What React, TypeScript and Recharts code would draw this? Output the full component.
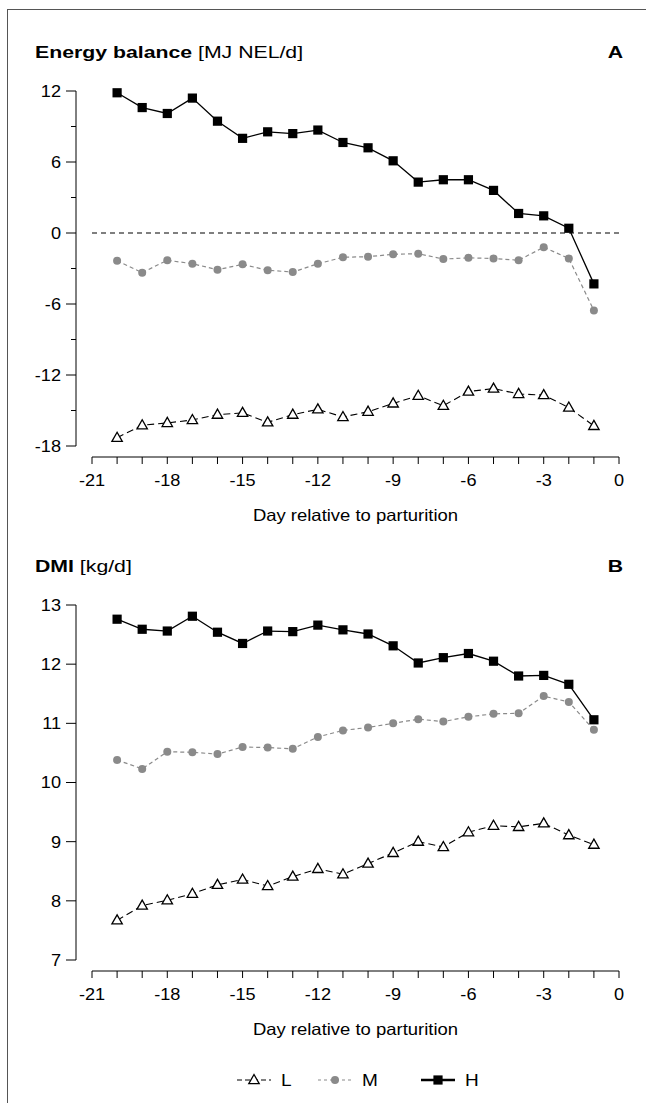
import React from 'react';
import { LineChart, Line, XAxis, YAxis, ReferenceLine } from 'recharts';

const days = [-20, -19, -18, -17, -16, -15, -14, -13, -12, -11, -10, -9, -8, -7, -6, -5, -4, -3, -2, -1];

const ebL = [-17.3, -16.25, -16.05, -15.8, -15.35, -15.2, -16.0, -15.35, -14.9, -15.55, -15.1, -14.4, -13.75, -14.6, -13.4, -13.15, -13.6, -13.7, -14.75, -16.3];
const ebM = [-2.35, -3.35, -2.3, -2.6, -3.1, -2.65, -3.15, -3.3, -2.6, -2.05, -2.0, -1.8, -1.75, -2.2, -2.1, -2.15, -2.3, -1.2, -2.15, -6.55];
const ebH = [11.85, 10.6, 10.1, 11.4, 9.45, 8.0, 8.55, 8.4, 8.7, 7.65, 7.2, 6.1, 4.3, 4.5, 4.5, 3.6, 1.65, 1.45, 0.4, -4.3];

const dmiL = [7.67, 7.92, 8.01, 8.12, 8.27, 8.36, 8.25, 8.41, 8.54, 8.45, 8.63, 8.81, 9.0, 8.91, 9.16, 9.27, 9.25, 9.31, 9.11, 8.95];
const dmiM = [10.38, 10.23, 10.52, 10.51, 10.48, 10.6, 10.59, 10.57, 10.77, 10.88, 10.93, 11.0, 11.07, 11.03, 11.11, 11.16, 11.17, 11.46, 11.36, 10.89];
const dmiH = [12.76, 12.59, 12.56, 12.81, 12.54, 12.35, 12.56, 12.55, 12.66, 12.58, 12.51, 12.31, 12.02, 12.11, 12.18, 12.05, 11.8, 11.81, 11.66, 11.06];

const xTicks = [-21, -20, -19, -18, -17, -16, -15, -14, -13, -12, -11, -10, -9, -8, -7, -6, -5, -4, -3, -2, -1, 0];
const ebTicks = [12, 9, 6, 3, 0, -3, -6, -9, -12, -15, -18];
const dmiTicks = [13, 12, 11, 10, 9, 8, 7];

const seriesNames = ['L', 'M', 'H'];
const xLabel = 'Day relative to parturition';

const FONT = 'Arial, "Liberation Sans", Helvetica, sans-serif';
const GREY = '#8a8a8a';
const TICK_FS = 16.5;
const TICK_SX = 1.1;

const ebData = days.map((d, i) => ({ day: d, L: ebL[i], M: ebM[i], H: ebH[i] }));
const dmiData = days.map((d, i) => ({ day: d, L: dmiL[i], M: dmiM[i], H: dmiH[i] }));

const TriDot = (p: any) => {
  const { cx, cy } = p;
  if (cx == null || cy == null) return <g key={p.index} />;
  return (
    <polygon
      key={p.index}
      points={`${cx},${cy - 5.5} ${cx - 5.2},${cy + 3.6} ${cx + 5.2},${cy + 3.6}`}
      fill="#fff"
      stroke="#000"
      strokeWidth={1.3}
    />
  );
};
const CircDot = (p: any) => {
  const { cx, cy } = p;
  if (cx == null || cy == null) return <g key={p.index} />;
  return <circle key={p.index} cx={cx} cy={cy} r={4} fill={GREY} stroke="none" />;
};
const SqDot = (p: any) => {
  const { cx, cy } = p;
  if (cx == null || cy == null) return <g key={p.index} />;
  return <rect key={p.index} x={cx - 4.6} y={cy - 4.6} width={9.2} height={9.2} fill="#000" />;
};

const GAP = 16;

function makeYTick(labelStep: number) {
  return (props: any) => {
    const { x, y, payload } = props;
    const v = payload.value;
    const major = Math.abs(v % labelStep) < 1e-9;
    const ax = x - GAP;
    const len = major ? 10 : 5;
    return (
      <g>
        <line x1={ax - len} x2={ax} y1={y} y2={y} stroke="#000" strokeWidth={1} />
        {major && (
          <text
            transform={`translate(${ax - 15},${y}) scale(${TICK_SX},1)`}
            x={0}
            y={0}
            dy="0.36em"
            textAnchor="end"
            fontSize={TICK_FS}
            fontFamily={FONT}
            fill="#000"
          >
            {String(v)}
          </text>
        )}
      </g>
    );
  };
}

const XTick = (props: any) => {
  const { x, y, payload } = props;
  const v = payload.value;
  if (v % 3 !== 0) return <g />;
  return (
    <text
      transform={`translate(${x},${y}) scale(${TICK_SX},1)`}
      x={0}
      y={0}
      dy="0.71em"
      textAnchor="middle"
      fontSize={TICK_FS}
      fontFamily={FONT}
      fill="#000"
    >
      {String(v)}
    </text>
  );
};

const AxisLabel = (props: any) => {
  const vb = props.viewBox || {};
  const cx = vb.x + vb.width / 2;
  const by = vb.y + vb.height - 9;
  return (
    <text
      transform={`translate(${cx},${by}) scale(1.12,1)`}
      x={0}
      y={0}
      textAnchor="middle"
      fontSize={16.5}
      fontFamily={FONT}
      fill="#000"
    >
      {xLabel}
    </text>
  );
};

const yAxisLineShape = (p: any) => (
  <line x1={p.x1 - GAP} x2={p.x2 - GAP} y1={p.y1} y2={p.y2} stroke="#000" strokeWidth={1} />
);

const CHART_W = 646;
const CHART_H = 530;
const MARGIN = { top: 91, right: 27, left: 0, bottom: 0 };

function Panel({ data, ticks, domain, labelStep, zeroLine }: any) {
  return (
    <LineChart width={CHART_W} height={CHART_H} data={data} margin={MARGIN}>
      <XAxis
        dataKey="day"
        type="number"
        domain={[-21, 0]}
        ticks={xTicks}
        interval={0}
        tickSize={7}
        tickMargin={10}
        axisLine={{ stroke: '#000', strokeWidth: 1 }}
        tickLine={{ stroke: '#000', strokeWidth: 1 }}
        tick={XTick}
        height={73}
        label={<AxisLabel />}
      />
      <YAxis
        type="number"
        domain={domain}
        ticks={ticks}
        interval={0}
        width={92}
        axisLine={false}
        tickLine={false}
        tickSize={0}
        tickMargin={0}
        padding={{ top: 0, bottom: 11 }}
        tick={makeYTick(labelStep)}
      />
      <ReferenceLine
        segment={[{ x: -21, y: domain[1] }, { x: -21, y: domain[0] }]}
        ifOverflow="visible"
        shape={yAxisLineShape}
      />
      {zeroLine && <ReferenceLine y={0} stroke="#000" strokeWidth={1.2} strokeDasharray="5 4" />}
      <Line dataKey="L" stroke="#000" strokeWidth={1.1} strokeDasharray="7 4" dot={TriDot} isAnimationActive={false} />
      <Line dataKey="M" stroke={GREY} strokeWidth={1.2} strokeDasharray="4 3" dot={CircDot} isAnimationActive={false} />
      <Line dataKey="H" stroke="#000" strokeWidth={1.3} dot={SqDot} isAnimationActive={false} />
    </LineChart>
  );
}

function Legend() {
  const items = [
    { name: seriesNames[0], x: 237, dash: '5 3', stroke: '#000', marker: 'tri', w: 1.2 },
    { name: seriesNames[1], x: 318, dash: '3 3', stroke: GREY, marker: 'circ', w: 1.2 },
    { name: seriesNames[2], x: 421, dash: undefined, stroke: '#000', marker: 'sq', w: 2.5 },
  ];
  return (
    <svg width={646} height={30} style={{ position: 'absolute', left: 0, top: 1065 }}>
      {items.map((it) => {
        const cx = it.x + 17;
        const cy = 15;
        return (
          <g key={it.name}>
            <line x1={it.x} x2={it.x + 34} y1={cy} y2={cy} stroke={it.stroke} strokeWidth={it.w} strokeDasharray={it.dash} />
            {it.marker === 'tri' && TriDot({ cx, cy, index: 0 })}
            {it.marker === 'circ' && CircDot({ cx, cy, index: 0 })}
            {it.marker === 'sq' && SqDot({ cx, cy, index: 0 })}
            <text
              transform={`translate(${it.x + 44},${cy}) scale(1.12,1)`}
              x={0}
              y={0}
              dy="0.36em"
              fontSize={17}
              fontFamily={FONT}
              fill="#000"
            >
              {it.name}
            </text>
          </g>
        );
      })}
    </svg>
  );
}

const titleStyle: React.CSSProperties = {
  position: 'absolute',
  fontFamily: FONT,
  fontSize: 17,
  lineHeight: '20px',
  color: '#000',
  whiteSpace: 'nowrap',
  transform: 'scaleX(1.25)',
  transformOrigin: 'left center',
};

const letterStyle: React.CSSProperties = {
  ...titleStyle,
  fontWeight: 'bold',
  transformOrigin: 'right center',
  textAlign: 'right',
  width: 20,
};

export default function App() {
  return (
    <div style={{ position: 'absolute', left: 0, top: 0, width: 646, height: 1103, background: '#fff', overflow: 'hidden' }}>
      <div style={{ position: 'absolute', left: 7, top: 9, width: 646, height: 1103, borderTop: '1px solid #555', borderLeft: '1px solid #555' }} />
      <div style={{ ...titleStyle, left: 35, top: 43 }}>
        <b>Energy balance</b> [MJ NEL/d]
      </div>
      <div style={{ ...letterStyle, left: 603, top: 43 }}>A</div>
      <div style={{ position: 'absolute', left: 0, top: 0 }}>
        <Panel data={ebData} ticks={ebTicks} domain={[-18, 12]} labelStep={6} zeroLine />
      </div>
      <div style={{ ...titleStyle, left: 35, top: 557 }}>
        <b>DMI</b> [kg/d]
      </div>
      <div style={{ ...letterStyle, left: 603, top: 557 }}>B</div>
      <div style={{ position: 'absolute', left: 0, top: 514 }}>
        <Panel data={dmiData} ticks={dmiTicks} domain={[7, 13]} labelStep={1} zeroLine={false} />
      </div>
      <Legend />
    </div>
  );
}
